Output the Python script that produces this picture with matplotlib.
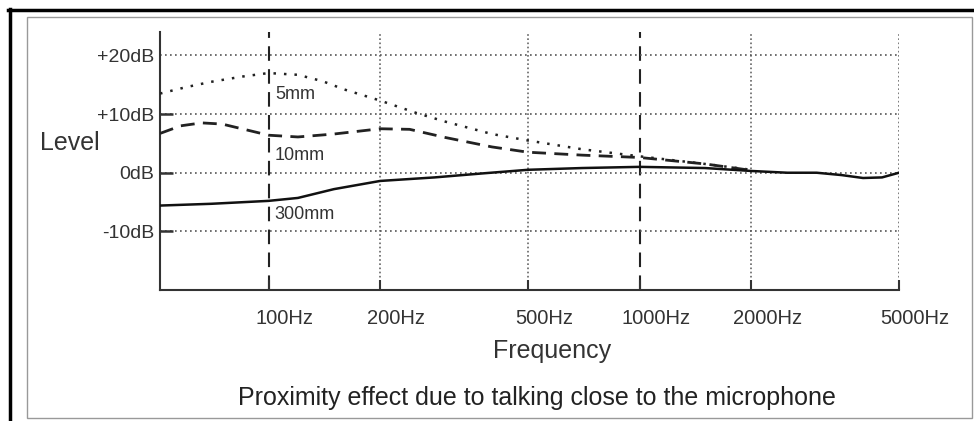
import numpy as np
import matplotlib.pyplot as plt
import matplotlib.transforms as mtransforms
from matplotlib.lines import Line2D
from matplotlib.patches import Rectangle

plt.rcParams['font.family'] = ['Liberation Sans', 'DejaVu Sans']

# Частоты (Гц) и уровни (дБ)
freq_5mm = [51, 60, 70, 85, 100, 120, 140, 160, 200, 250, 300, 400, 500, 700, 1000, 1500, 2000]
level_5mm = [13.5, 14.6, 15.5, 16.4, 17.0, 16.7, 15.6, 14.2, 12.3, 10.2, 8.7, 6.6, 5.5, 4.0, 2.8, 1.5, 0.5]

freq_10mm = [51, 58, 66, 75, 90, 100, 120, 150, 200, 240, 300, 400, 500, 700, 1000, 1500, 2000]
level_10mm = [6.7, 8.0, 8.5, 8.3, 7.1, 6.4, 6.1, 6.6, 7.5, 7.4, 6.0, 4.4, 3.5, 3.0, 2.6, 1.5, 0.4]

freq_300mm = [51, 70, 100, 120, 150, 200, 280, 380, 500, 700, 1000, 1500, 2000, 2500, 3000, 3500, 4000, 4500, 5000]
level_300mm = [-5.6, -5.3, -4.8, -4.3, -2.8, -1.4, -0.8, -0.1, 0.5, 0.8, 1.0, 0.8, 0.3, 0.0, 0.0, -0.4, -0.9, -0.8, 0.0]

y_ticks = [-10, 0, 10]
y_labels = ['-10dB', '0dB', '+10dB']
y_top_tick = 20
y_top_label = '+20dB'
x_ticks = [100, 200, 500, 1000, 2000, 5000]
x_labels = ['100Hz', '200Hz', '500Hz', '1000Hz', '2000Hz', '5000Hz']
dashed_freqs = [100, 1000]
dotted_freqs = [200, 500, 2000, 5000]

fig = plt.figure(figsize=(9.74, 4.21), dpi=100)

# рамка
fig.patches.append(Rectangle((27 / 974, 0.007), 945 / 974, 1 - 17 / 421 - 0.007,
                             transform=fig.transFigure, fill=False, ec='#999999', lw=1.0))
fig.lines.append(Line2D([8 / 974, 1.0], [1 - 10 / 421] * 2, transform=fig.transFigure,
                        color='black', lw=2.5))
fig.lines.append(Line2D([10 / 974] * 2, [0, 1 - 9 / 421], transform=fig.transFigure,
                        color='black', lw=2.5))

ax = fig.add_axes([160 / 974, 1 - 290 / 421, (899 - 160) / 974, (290 - 32) / 421])
ax.set_xscale('log')
ax.set_xlim(51, 5000)
ax.set_ylim(-20, 24)

for f in dotted_freqs:
    ax.axvline(f, color='#666666', lw=1.2, ls=(0, (1, 1.5)), zorder=1)
for f in dashed_freqs:
    ax.axvline(f, color='#222222', lw=1.5, ls=(0, (7, 4)), zorder=1)
for yv in [-10, 0, 10, 20]:
    ax.axhline(yv, color='#555555', lw=1.2, ls=(0, (1, 2)), zorder=1)

ax.plot(freq_5mm, level_5mm, color='#222222', lw=1.8, ls=(0, (1, 3.2)), zorder=3)
ax.plot(freq_10mm, level_10mm, color='#222222', lw=2.0, ls=(0, (5, 3)), zorder=3)
ax.plot(freq_300mm, level_300mm, color='#111111', lw=1.8, zorder=3)

ax.text(104, 13.4, '5mm', fontsize=13, color='#333333', va='center')
ax.text(104, 2.9, '10mm', fontsize=13, color='#333333', va='center')
ax.text(104, -7.2, '300mm', fontsize=13, color='#333333', va='center')

ax.spines['top'].set_visible(False)
ax.spines['right'].set_visible(False)
ax.spines['left'].set_color('#333333')
ax.spines['bottom'].set_color('#333333')
ax.spines['left'].set_linewidth(1.5)
ax.spines['bottom'].set_linewidth(1.5)

ax.minorticks_off()
ax.set_xticks(x_ticks)
ax.set_xticklabels(x_labels)
ax.set_yticks(y_ticks)
ax.set_yticklabels(y_labels)
ax.set_yticks([y_top_tick], minor=True)
ax.set_yticklabels([y_top_label], minor=True)
ax.tick_params(axis='x', direction='in', length=7, width=1.5, color='#333333',
               pad=14, labelsize=14.5, labelcolor='#333333')
ax.tick_params(axis='y', which='major', direction='in', length=9, width=1.8, color='#333333',
               pad=4, labelsize=14, labelcolor='#333333')
ax.tick_params(axis='y', which='minor', length=0, pad=4, labelsize=14, labelcolor='#333333')

# подписи частот сдвинуты вправо от засечек
shift = mtransforms.ScaledTranslation(0.16, 0, fig.dpi_scale_trans)
for lab in ax.get_xticklabels():
    lab.set_transform(lab.get_transform() + shift)

fig.text(70 / 974, 1 - 143 / 421, 'Level', fontsize=18, color='#333333', ha='center', va='center')
fig.text(552 / 974, 1 - 351 / 421, 'Frequency', fontsize=18, color='#333333', ha='center', va='center')
fig.text(537 / 974, 1 - 398 / 421, 'Proximity effect due to talking close to the microphone',
         fontsize=18, color='#222222', ha='center', va='center')

plt.savefig('out.png', dpi=100)
